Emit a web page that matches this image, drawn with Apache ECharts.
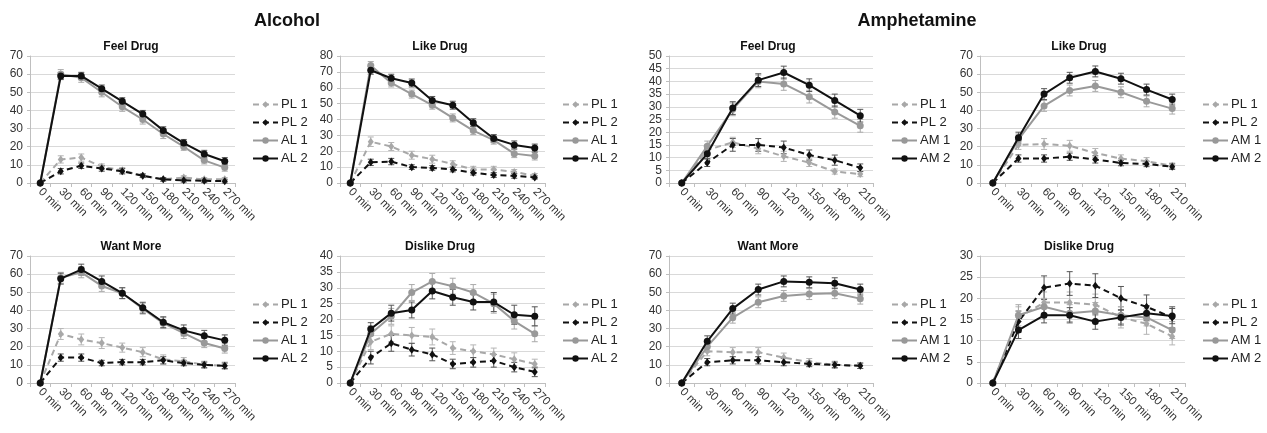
<!DOCTYPE html>
<html>
<head>
<meta charset="utf-8">
<script src="https://cdn.jsdelivr.net/npm/echarts@6/dist/echarts.min.js"></script>
<style>
html,body{margin:0;padding:0;background:#fff;}
#chart{width:1267px;height:433px;}
</style>
</head>
<body>
<div id="chart"></div>
<script>
// ---------- categories ----------
const timesAlcohol = ['0 min','30 min','60 min','90 min','120 min','150 min','180 min','210 min','240 min','270 min'];
const timesAmph = ['0 min','30 min','60 min','90 min','120 min','150 min','180 min','210 min'];
const namesAlcohol = ['PL 1','PL 2','AL 1','AL 2'];
const namesAmph = ['PL 1','PL 2','AM 1','AM 2'];
const groupTitles = ['Alcohol','Amphetamine'];
const panelTitles = ['Feel Drug','Like Drug','Want More','Dislike Drug'];

// ---------- Alcohol: Feel Drug ----------
const alcFeelPL1 = [0, 13, 14, 9, 7, 4, 2, 3, 2, 2];
const alcFeelPL2 = [0, 6.5, 9.5, 8, 6.5, 4, 2, 1.5, 1.2, 1];
const alcFeelAL1 = [0, 60, 58, 50, 42, 35, 27, 20, 12.5, 8.5];
const alcFeelAL2 = [0, 59, 59, 52, 45, 38, 29, 22, 16, 12];
// ---------- Alcohol: Like Drug ----------
const alcLikePL1 = [0, 26, 23, 17.5, 15, 12, 8.5, 8.5, 7, 4.5];
const alcLikePL2 = [0, 13, 13.5, 10, 9.5, 8.5, 6.5, 5, 4.5, 3.5];
const alcLikeAL1 = [0, 74, 63, 56, 49, 41, 33, 27, 18.5, 17];
const alcLikeAL2 = [0, 71, 66, 63, 52, 49, 38, 28, 24, 22];
// ---------- Alcohol: Want More ----------
const alcWantPL1 = [0, 27, 24, 22, 19.5, 17, 13, 12, 10, 9.5];
const alcWantPL2 = [0, 14, 14, 11, 11.5, 11.5, 12.5, 11, 10, 9.5];
const alcWantAL1 = [0, 58, 61, 53.5, 49.5, 41, 33, 27.5, 22, 19];
const alcWantAL2 = [0, 57.5, 62.5, 56, 49.5, 41.5, 33.5, 29, 26, 23.5];
// ---------- Alcohol: Dislike Drug ----------
const alcDislikePL1 = [0, 13, 15.5, 15, 14.5, 11, 10, 9, 7.5, 6];
const alcDislikePL2 = [0, 8, 12.5, 10.5, 9, 6, 6.5, 7, 5, 3.5];
const alcDislikeAL1 = [0, 15.5, 21, 28.5, 32, 30.5, 28.5, 25, 19.5, 15.5];
const alcDislikeAL2 = [0, 17, 22, 23, 29, 27, 25.5, 25.5, 21.5, 21];

// ---------- Amphetamine: Feel Drug ----------
const amFeelPL1 = [0, 13, 16, 13.5, 10.5, 8, 4.5, 3.5];
const amFeelPL2 = [0, 8, 15, 15, 14, 11, 9, 6];
const amFeelAM1 = [0, 14.5, 29, 40, 39, 34, 28, 22.5];
const amFeelAM2 = [0, 11.5, 29.5, 40.5, 43.5, 38.5, 32.5, 26.5];
// ---------- Amphetamine: Like Drug ----------
const amLikePL1 = [0, 21, 21.5, 20.5, 16.5, 13.5, 12, 9.5];
const amLikePL2 = [0, 13.5, 13.5, 14.5, 13, 11, 10.5, 9];
const amLikeAM1 = [0, 24, 42.5, 51, 53.5, 50, 45, 41];
const amLikeAM2 = [0, 25, 49, 58, 61.5, 57.5, 51.5, 46];
// ---------- Amphetamine: Want More ----------
const amWantPL1 = [0, 17.5, 17, 17, 14, 11.5, 10, 9.5];
const amWantPL2 = [0, 11.5, 12.5, 12.5, 11.5, 10.5, 10, 9.5];
const amWantAM1 = [0, 20, 36, 44.5, 48, 49, 49.5, 46.5];
const amWantAM2 = [0, 23, 41, 51.5, 56, 55.5, 55, 51.5];
// ---------- Amphetamine: Dislike Drug ----------
const amDislikePL1 = [0, 15.5, 19, 19, 18.5, 15.5, 14, 11];
const amDislikePL2 = [0, 14.5, 22.5, 23.5, 23, 20, 18, 15.5];
const amDislikeAM1 = [0, 16, 18, 16.5, 17, 16, 15.5, 12.5];
const amDislikeAM2 = [0, 12.5, 16, 16, 14.5, 15.5, 16.5, 15.8];

// ---------- error bars (± SEM) ----------
const alcFeelErrPL1 = [0, 2, 2, 1.5, 1.5, 1, 1, 1, 1, 1];
const alcFeelErrPL2 = [0, 1.5, 1.5, 1.5, 1.5, 1, 1, 1, 1, 1];
const alcFeelErrAL1 = [0, 2.5, 2.5, 2.5, 2.5, 2.5, 2.5, 2, 2, 2];
const alcFeelErrAL2 = [0, 2, 2, 2, 2, 2, 2, 2, 2, 2];
const alcLikeErrPL1 = [0, 3, 2.5, 2.5, 2.5, 2, 2, 2, 1.5, 1.5];
const alcLikeErrPL2 = [0, 2, 2, 1.5, 1.5, 1.5, 1.5, 1.5, 1.5, 1];
const alcLikeErrAL1 = [0, 2.5, 2.5, 2.5, 2.5, 2.5, 2.5, 2.5, 2.5, 2.5];
const alcLikeErrAL2 = [0, 2.5, 2.5, 2.5, 2.5, 2.5, 2.5, 2.5, 2.5, 2.5];
const alcWantErrPL1 = [0, 3, 3, 3, 2.5, 2.5, 2.5, 2, 2, 2];
const alcWantErrPL2 = [0, 2, 2, 1.5, 1.5, 1.5, 2, 1.5, 1.5, 1.5];
const alcWantErrAL1 = [0, 3, 3, 3, 3, 3, 3, 3, 2.5, 2.5];
const alcWantErrAL2 = [0, 3, 3, 3, 3, 3, 3, 3, 3, 3];
const alcDislikeErrPL1 = [0, 2.5, 2.5, 2.5, 2.5, 2, 2, 2, 2, 1.5];
const alcDislikeErrPL2 = [0, 2, 2.5, 2, 2, 1.5, 1.5, 2, 1.5, 1.5];
const alcDislikeErrAL1 = [0, 2.5, 2.5, 2.5, 2.5, 2.5, 2.5, 3, 2.5, 2.5];
const alcDislikeErrAL2 = [0, 2, 2.5, 2.5, 2.5, 2.5, 2.5, 3, 3, 3];
const amFeelErrPL1 = [0, 2, 2, 2, 2, 1.5, 1, 1];
const amFeelErrPL2 = [0, 1.5, 2.5, 2.5, 2.5, 2, 2, 1.5];
const amFeelErrAM1 = [0, 2, 2.5, 2.5, 2.5, 2.5, 2.5, 2.5];
const amFeelErrAM2 = [0, 2, 2.5, 2.5, 2.5, 2.5, 2.5, 2.5];
const amLikeErrPL1 = [0, 2.5, 3, 3, 2.5, 2, 2, 1.5];
const amLikeErrPL2 = [0, 2, 2, 2, 2, 1.5, 1.5, 1.5];
const amLikeErrAM1 = [0, 3, 3, 3, 3, 3, 3, 3];
const amLikeErrAM2 = [0, 3, 3, 3, 3, 3, 3, 3];
const amWantErrPL1 = [0, 2.5, 2.5, 2.5, 2.5, 2, 2, 1.5];
const amWantErrPL2 = [0, 2, 2, 2, 2, 1.5, 1.5, 1.5];
const amWantErrAM1 = [0, 3, 3, 3, 3, 3, 3, 3];
const amWantErrAM2 = [0, 3, 3, 3, 3, 3, 3, 3];
const amDislikeErrPL1 = [0, 2.5, 2.5, 2.5, 2.5, 2.5, 2.5, 2];
const amDislikeErrPL2 = [0, 2.5, 2.8, 2.8, 2.8, 2.8, 2.8, 2.5];
const amDislikeErrAM1 = [0, 2.5, 2, 2, 2, 2, 2, 2];
const amDislikeErrAM2 = [0, 2, 1.8, 1.8, 1.8, 1.8, 1.8, 1.8];

// ---------- axis ranges ----------
const yMax = [70, 80, 50, 70, 70, 40, 70, 30];
const yStep = [10, 10, 5, 10, 10, 5, 10, 5];

// ---------- layout (styles, not data) ----------
const FONT = '"Liberation Sans", Arial, sans-serif';
const colLeft = [30, 340, 669, 980];
const colWidth = [205, 205, 204, 205];
const rowTop = [56, 256];
const plotH = 127;
const titleX = [126, 435, 763, 1074];
const legendX = [247, 557, 886, 1197];

const panels = [
  {row:0,col:0,t:0,cats:timesAlcohol,names:namesAlcohol,data:[alcFeelPL1,alcFeelPL2,alcFeelAL1,alcFeelAL2],err:[alcFeelErrPL1,alcFeelErrPL2,alcFeelErrAL1,alcFeelErrAL2]},
  {row:0,col:1,t:1,cats:timesAlcohol,names:namesAlcohol,data:[alcLikePL1,alcLikePL2,alcLikeAL1,alcLikeAL2],err:[alcLikeErrPL1,alcLikeErrPL2,alcLikeErrAL1,alcLikeErrAL2]},
  {row:0,col:2,t:0,cats:timesAmph,names:namesAmph,data:[amFeelPL1,amFeelPL2,amFeelAM1,amFeelAM2],err:[amFeelErrPL1,amFeelErrPL2,amFeelErrAM1,amFeelErrAM2]},
  {row:0,col:3,t:1,cats:timesAmph,names:namesAmph,data:[amLikePL1,amLikePL2,amLikeAM1,amLikeAM2],err:[amLikeErrPL1,amLikeErrPL2,amLikeErrAM1,amLikeErrAM2]},
  {row:1,col:0,t:2,cats:timesAlcohol,names:namesAlcohol,data:[alcWantPL1,alcWantPL2,alcWantAL1,alcWantAL2],err:[alcWantErrPL1,alcWantErrPL2,alcWantErrAL1,alcWantErrAL2]},
  {row:1,col:1,t:3,cats:timesAlcohol,names:namesAlcohol,data:[alcDislikePL1,alcDislikePL2,alcDislikeAL1,alcDislikeAL2],err:[alcDislikeErrPL1,alcDislikeErrPL2,alcDislikeErrAL1,alcDislikeErrAL2]},
  {row:1,col:2,t:2,cats:timesAmph,names:namesAmph,data:[amWantPL1,amWantPL2,amWantAM1,amWantAM2],err:[amWantErrPL1,amWantErrPL2,amWantErrAM1,amWantErrAM2]},
  {row:1,col:3,t:3,cats:timesAmph,names:namesAmph,data:[amDislikePL1,amDislikePL2,amDislikeAM1,amDislikeAM2],err:[amDislikeErrPL1,amDislikeErrPL2,amDislikeErrAM1,amDislikeErrAM2]}
];

const styles = [
  {color:'#a8a8a8', err:'#b5b5b5', type:[6,4], symbol:'diamond', size:[6,8]},
  {color:'#111111', err:'#555555', type:[6,4], symbol:'diamond', size:[6,8]},
  {color:'#999999', err:'#aaaaaa', type:'solid', symbol:'circle', size:7},
  {color:'#111111', err:'#555555', type:'solid', symbol:'circle', size:7}
];

function errorBarRenderer(color) {
  return function (params, api) {
    const lo = api.value(1), hi = api.value(2);
    if (hi - lo <= 0) return null;
    const x = api.value(0);
    const pLo = api.coord([x, lo]);
    const pHi = api.coord([x, hi]);
    const cap = 3;
    const st = {stroke: color, lineWidth: 1};
    return {
      type: 'group',
      children: [
        {type:'line', shape:{x1:pLo[0], y1:pLo[1], x2:pHi[0], y2:pHi[1]}, style:st},
        {type:'line', shape:{x1:pLo[0]-cap, y1:pLo[1], x2:pLo[0]+cap, y2:pLo[1]}, style:st},
        {type:'line', shape:{x1:pHi[0]-cap, y1:pHi[1], x2:pHi[0]+cap, y2:pHi[1]}, style:st}
      ]
    };
  };
}

const grid = [], xAxis = [], yAxis = [], series = [], legend = [];
const title = [
  {text:groupTitles[0], left:282, top:7, textAlign:'center', textStyle:{fontFamily:FONT,fontSize:18,fontWeight:'bold',color:'#111'}},
  {text:groupTitles[1], left:912, top:7, textAlign:'center', textStyle:{fontFamily:FONT,fontSize:18,fontWeight:'bold',color:'#111'}}
];

panels.forEach((p, i) => {
  const top = rowTop[p.row];
  grid.push({left:colLeft[p.col], top:top, width:colWidth[p.col], height:plotH, containLabel:false});
  xAxis.push({
    type:'category', gridIndex:i, data:p.cats, boundaryGap:true,
    axisLine:{show:true, lineStyle:{color:'#bfbfbf', width:1}},
    axisTick:{show:true, alignWithLabel:false, interval:0, length:4, lineStyle:{color:'#bfbfbf'}},
    axisLabel:{interval:0, rotate:-45, margin:7, fontFamily:FONT, fontSize:11.5, color:'#333'},
    splitLine:{show:false}
  });
  yAxis.push({
    type:'value', gridIndex:i, min:0, max:yMax[i], interval:yStep[i],
    axisLine:{show:true, lineStyle:{color:'#bfbfbf', width:1}},
    axisTick:{show:true, length:3, lineStyle:{color:'#bfbfbf'}},
    axisLabel:{margin:7, fontFamily:FONT, fontSize:12, color:'#333'},
    splitLine:{show:true, lineStyle:{color:'#d9d9d9', width:1}}
  });
  title.push({text:panelTitles[p.t], left:titleX[p.col], top:top-20, textAlign:'center',
    textStyle:{fontFamily:FONT, fontSize:12, fontWeight:'bold', color:'#111'}});
  p.data.forEach((d, k) => {
    const s = styles[k];
    const e = p.err[k];
    series.push({
      type:'custom', name:'err-' + i + '-' + k, xAxisIndex:i, yAxisIndex:i,
      data:d.map((v, j) => [j, v - e[j], v + e[j]]),
      encode:{x:0, y:[1, 2]},
      renderItem:errorBarRenderer(s.err), silent:true, animation:false, z:1
    });
  });
  p.data.forEach((d, k) => {
    const s = styles[k];
    series.push({
      type:'line', name:p.names[k], xAxisIndex:i, yAxisIndex:i, data:d,
      symbol:s.symbol, symbolSize:s.size, showSymbol:true,
      lineStyle:{color:s.color, width:2, type:s.type},
      itemStyle:{color:s.color, borderWidth:0},
      emphasis:{disabled:true}, animation:false, z:2+k
    });
  });
  legend.push({
    orient:'vertical', left:legendX[p.col], top:top+37, data:p.names,
    itemWidth:25, itemHeight:8, itemGap:5, selectedMode:false,
    textStyle:{fontFamily:FONT, fontSize:13, color:'#222', padding:[0,0,0,-2]}
  });
});

const chart = echarts.init(document.getElementById('chart'), null, {renderer:'canvas'});
chart.setOption({animation:false, backgroundColor:'#fff', title, grid, xAxis, yAxis, series, legend});
</script>
</body>
</html>
